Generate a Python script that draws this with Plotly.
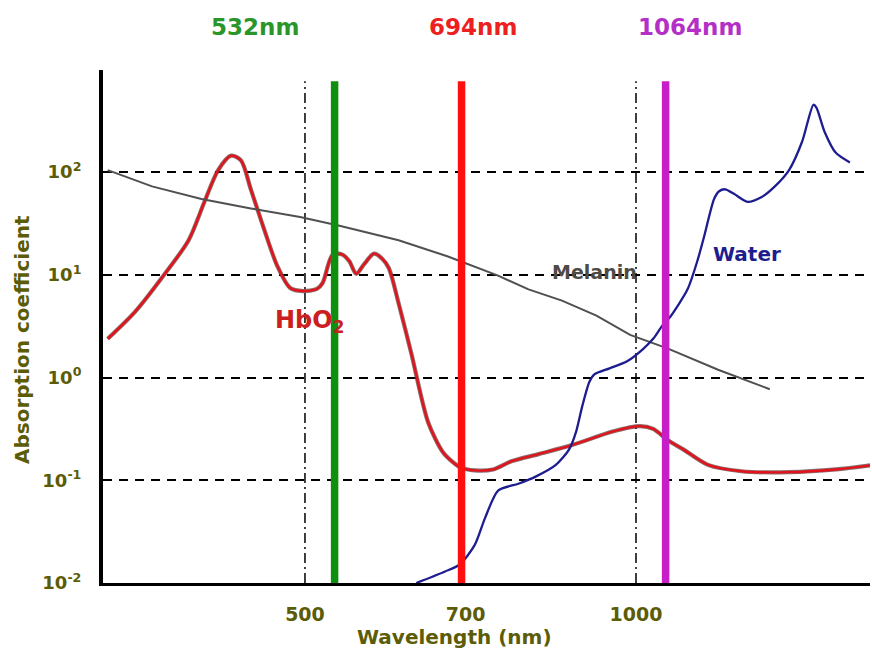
import plotly.graph_objects as go

# Oxy-haemoglobin absorption spectrum
hbo2_nm = [330.8, 350.6, 372.9, 391.9, 405.1, 416.9, 428.4, 437.3, 446.4, 458.5,
           471.9, 484.8, 497.9, 512.6, 518.9, 529.8, 540.8, 548.7, 556.6, 565.9,
           577.7, 587.4, 595.9, 608.3, 624.9, 647.2, 667.5, 681.5, 692.8, 713.5,
           741.3, 770.2, 815.5, 874.7, 952.2, 1008.4, 1036.6, 1070.2, 1104.9, 1162.7,
           1247.0, 1377.8, 1519.6, 1643.7]
hbo2_mu = [2.378, 4.401, 10.22, 21.70, 51.3, 104.4, 144.2, 129.5, 67.9, 28.7,
           12.14, 7.43, 6.94, 7.27, 8.33, 15.71, 15.71, 13.51, 10.22, 12.67,
           16.05, 14.42, 11.63, 5.28, 1.689, 0.3641, 0.1870, 0.1498, 0.1327, 0.1249,
           0.1274, 0.1528, 0.1796, 0.2198, 0.2977, 0.3360, 0.3162, 0.2432, 0.1987, 0.1410,
           0.1224, 0.1199, 0.1274, 0.1410]

# Melanin absorption
melanin_nm = [330.8, 363.0, 402.6, 446.4, 494.9, 537.5, 608.3, 674.5, 749.2, 798.5,
              856.4, 920.5, 987.8, 1036.6, 1068.0, 1187.6, 1323.3]
melanin_mu = [104.4, 72.4, 54.7, 44.2, 36.4, 29.97, 21.70, 15.05, 9.8, 7.2,
              5.6, 4.0, 2.6, 2.15, 1.92, 1.19, 0.769]

# Water absorption
water_nm = [631.3, 670.4, 691.4, 713.5, 728.8, 749.2, 781.7, 810.4, 845.5, 869.1,
            882.2, 893.5, 906.9, 916.5, 946.2, 981.5, 1014.8, 1036.6, 1056.7, 1074.8,
            1114.3, 1138.2, 1152.8, 1177.6, 1190.1, 1205.4, 1228.6, 1263.0, 1301.1, 1337.5,
            1377.8, 1416.4, 1449.8, 1459.1, 1484.1, 1519.6, 1565.0]
water_mu = [0.0100, 0.01296, 0.01513, 0.02349, 0.04257, 0.07922, 0.09253, 0.1084, 0.1410, 0.1987,
            0.2977, 0.5239, 0.9040, 1.071, 1.228, 1.440, 1.893, 2.378, 3.199, 3.928,
            7.27, 14.11, 23.14, 54.7, 65.0, 67.9, 61.0, 51.3, 57.1, 72.4,
            104.4, 199.1, 451.0, 422.9, 246.9, 153.8, 124.0]

# Laser wavelengths
laser_nm = [532, 694, 1064]
laser_labels = ["532nm", "694nm", "1064nm"]

# Reference wavelengths marked with dash-dot lines
marker_nm = [500, 1000]

x_tick_vals = [500, 700, 1000]
x_tick_text = ["500", "700", "1000"]
y_tick_vals = [0.01, 0.1, 1, 10, 100]
y_tick_text = ["10<sup>-2</sup>", "10<sup>-1</sup>", "10<sup>0</sup>", "10<sup>1</sup>", "10<sup>2</sup>"]

OLIVE = "#5c5c06"
FONT = "DejaVu Sans"
laser_line_colors = ["#0f8f0f", "#ff1010", "#c81ec8"]
laser_text_colors = ["#2a962a", "#ec2020", "#b32fc6"]
label_x = [0.1982, 0.4824, 0.7653]

X_RANGE = [2.5153, 3.2128]
Y_RANGE = [-2, 2.9927]
y_bottom = 10 ** Y_RANGE[0]
y_top = 10 ** (Y_RANGE[0] + 0.978 * (Y_RANGE[1] - Y_RANGE[0]))

fig = go.Figure()

# Dash-dot guides at 500 and 1000 nm
for nm in marker_nm:
    fig.add_trace(go.Scatter(x=[nm, nm], y=[y_bottom, y_top], mode="lines",
                             line=dict(color="black", width=1.5, dash="10px,4px,2px,4px"),
                             hoverinfo="skip", showlegend=False))

# HbO2: dark halo under the red line
fig.add_trace(go.Scatter(x=hbo2_nm, y=hbo2_mu, mode="lines",
                         line=dict(color="rgba(100,60,60,0.75)", width=4.2, shape="spline", smoothing=0.8),
                         hoverinfo="skip", showlegend=False))
fig.add_trace(go.Scatter(x=hbo2_nm, y=hbo2_mu, mode="lines", name="HbO2",
                         line=dict(color="#e3121b", width=2.4, shape="spline", smoothing=0.8),
                         showlegend=False))
fig.add_trace(go.Scatter(x=melanin_nm, y=melanin_mu, mode="lines", name="Melanin",
                         line=dict(color="#505050", width=2),
                         showlegend=False))
fig.add_trace(go.Scatter(x=water_nm, y=water_mu, mode="lines", name="Water",
                         line=dict(color="#1d1d8f", width=2.3, shape="spline", smoothing=0.7),
                         showlegend=False))

# Laser lines on top of the spectra
for nm, col in zip(laser_nm, laser_line_colors):
    fig.add_trace(go.Scatter(x=[nm, nm], y=[y_bottom, y_top], mode="lines",
                             line=dict(color=col, width=7.5),
                             hoverinfo="skip", showlegend=False))

annotations = []
for txt, col, xp in zip(laser_labels, laser_text_colors, label_x):
    annotations.append(dict(text=f"<b>{txt}</b>", xref="paper", yref="paper", x=xp, y=1.0838,
                            xanchor="center", yanchor="middle", showarrow=False,
                            font=dict(family=FONT, size=23, color=col)))
annotations += [
    dict(text="<b>HbO<sub>2</sub></b>", xref="paper", yref="paper", x=0.2216, y=0.5107,
         xanchor="left", yanchor="middle", showarrow=False,
         font=dict(family=FONT, size=24, color="#cc2020")),
    dict(text="<b>Melanin</b>", xref="paper", yref="paper", x=0.6402, y=0.6062,
         xanchor="center", yanchor="middle", showarrow=False,
         font=dict(family=FONT, size=19, color="#4e4a46")),
    dict(text="<b>Water</b>", xref="paper", yref="paper", x=0.8396, y=0.6413,
         xanchor="center", yanchor="middle", showarrow=False,
         font=dict(family=FONT, size=20, color="#1d1d8f")),
    dict(text="<b>Wavelength (nm)</b>", xref="paper", yref="paper", x=0.4589, y=-0.1053,
         xanchor="center", yanchor="middle", showarrow=False,
         font=dict(family=FONT, size=20, color=OLIVE)),
    dict(text="<b>Absorption coefficient</b>", xref="paper", yref="paper", x=-0.1056, y=0.4737,
         xanchor="center", yanchor="middle", showarrow=False, textangle=-90,
         font=dict(family=FONT, size=20, color=OLIVE)),
]

fig.update_layout(
    width=872, height=652,
    margin=dict(l=103, r=2, t=70, b=69),
    paper_bgcolor="white", plot_bgcolor="white",
    annotations=annotations,
    xaxis=dict(type="log", range=X_RANGE,
               tickvals=x_tick_vals, ticktext=[f"<b>{t}</b>" for t in x_tick_text],
               tickfont=dict(family=FONT, size=19, color=OLIVE),
               showgrid=False, zeroline=False, ticks="",
               showline=True, linecolor="black", linewidth=3,
               ticklabelstandoff=12),
    yaxis=dict(type="log", range=Y_RANGE,
               tickvals=y_tick_vals, ticktext=[f"<b>{t}</b>" for t in y_tick_text],
               tickfont=dict(family=FONT, size=18, color=OLIVE),
               showgrid=True, gridcolor="black", gridwidth=1.5, griddash="9px,7px",
               zeroline=False, ticks="",
               showline=True, linecolor="black", linewidth=4,
               ticklabelstandoff=14),
)

fig.write_html("out.html")
